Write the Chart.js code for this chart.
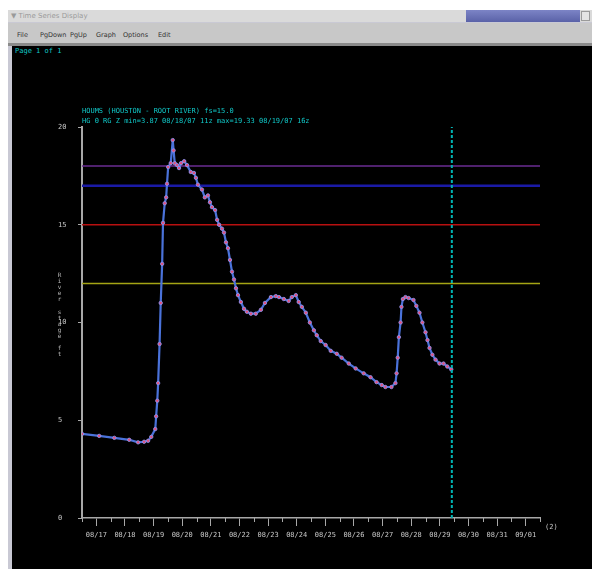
<!DOCTYPE html>
<html>
<head>
<meta charset="utf-8">
<title>Time Series Display</title>
<script src="https://cdn.jsdelivr.net/npm/chart.js@4/dist/chart.umd.min.js"></script>
<style>
  body { margin: 0; width: 592px; height: 569px; background: #fff; position: relative; overflow: hidden; font-family: "DejaVu Sans", sans-serif; }
  #frame { position: absolute; left: 8px; top: 10px; width: 584px; height: 559px; background: #c9c9d4; }
  #titlebar { position: absolute; left: 8px; top: 10px; width: 584px; height: 12px; background: #dadada; }
  #titlebar .active { position: absolute; left: 458px; top: 0; width: 114px; height: 12px; background: linear-gradient(#7c84c6, #5a62a8); }
  #titlebar .btn { position: absolute; left: 573px; top: 1px; width: 9px; height: 10px; background: #e4e4e4; border: 1px solid #9a9a9a; box-sizing: border-box; }
  #titlebar .txt { position: absolute; left: 3px; top: 1px; font-size: 7px; color: #9a9a9a; line-height: 10px; white-space: nowrap; }
  #menubar { position: absolute; left: 8px; top: 23px; width: 584px; height: 20px; background: #c8c8c8; border-bottom: 3px solid #8a8a8a; }
  #menubar span { position: absolute; top: 8px; font-size: 6.5px; color: #333; }
  #plot { position: absolute; left: 12px; top: 46px; width: 580px; height: 523px; background: #000; }
  #page { position: absolute; left: 15px; top: 47px; font: 7px "DejaVu Sans Mono", monospace; color: #10c8c8; }
  #ytitle { position: absolute; left: 56px; top: 271px; font: 6px "DejaVu Sans Mono", monospace; color: #b8b8b8; writing-mode: vertical-lr; text-orientation: upright; letter-spacing: -0.9px; }
  canvas { position: absolute; left: 12px; top: 46px; }
</style>
</head>
<body>
<div id="frame"></div>
<div id="titlebar"><span class="txt">&#9660; Time Series Display</span><div class="active"></div><div class="btn"></div></div>
<div id="menubar">
  <span style="left:9px">File</span><span style="left:32px">PgDown</span><span style="left:62px">PgUp</span>
  <span style="left:88px">Graph</span><span style="left:115px">Options</span><span style="left:150px">Edit</span>
</div>
<div id="plot"></div>
<div id="page">Page 1 of 1</div>
<canvas id="stageChart" width="580" height="523"></canvas>
<div id="ytitle">River stage ft</div>
<script>
// observation time, in days after 08/16 00z
const obsDay = [
  0.50, 1.10, 1.63, 2.15, 2.46, 2.67, 2.81, 2.92, 3.06, 3.09,
  3.13, 3.16, 3.21, 3.25, 3.30, 3.33, 3.39, 3.44, 3.47, 3.51,
  3.60, 3.67, 3.70, 3.74, 3.82, 3.89, 3.96, 4.07, 4.17, 4.30,
  4.41, 4.48, 4.55, 4.69, 4.79, 4.90, 4.97, 5.04, 5.15, 5.22,
  5.29, 5.39, 5.46, 5.53, 5.60, 5.67, 5.74, 5.81, 5.88, 5.95,
  6.05, 6.16, 6.26, 6.40, 6.57, 6.75, 6.89, 7.10, 7.27, 7.38,
  7.55, 7.72, 7.83, 7.97, 8.07, 8.18, 8.32, 8.46, 8.60, 8.70,
  8.84, 9.01, 9.19, 9.40, 9.57, 9.82, 10.06, 10.34, 10.58, 10.79,
  10.97, 11.10, 11.31, 11.45, 11.49, 11.53, 11.57, 11.63, 11.66, 11.71,
  11.80, 11.91, 12.08, 12.18, 12.29, 12.39, 12.50, 12.57, 12.64, 12.74,
  12.85, 12.99, 13.13, 13.26, 13.40
];
// river stage, ft
const stageFt = [
  4.30, 4.20, 4.10, 4.00, 3.87, 3.90, 3.95, 4.15, 4.55, 5.20,
  6.00, 6.90, 8.90, 11.00, 13.00, 15.10, 16.10, 16.40, 17.10, 17.95,
  18.15, 19.33, 18.80, 18.15, 18.05, 17.90, 18.15, 18.25, 18.05, 17.70,
  17.65, 17.40, 17.05, 16.80, 16.40, 16.50, 16.15, 15.90, 15.75, 15.25,
  15.00, 14.80, 14.60, 14.10, 13.80, 13.20, 12.60, 12.20, 11.75, 11.40,
  11.05, 10.70, 10.55, 10.45, 10.45, 10.65, 11.00, 11.30, 11.35, 11.30,
  11.20, 11.10, 11.30, 11.40, 11.05, 10.80, 10.50, 10.00, 9.60, 9.35,
  9.05, 8.85, 8.55, 8.40, 8.20, 7.90, 7.65, 7.40, 7.20, 6.95,
  6.80, 6.70, 6.70, 6.90, 7.40, 8.20, 9.25, 10.00, 10.80, 11.20,
  11.30, 11.25, 11.15, 10.85, 10.50, 10.00, 9.50, 9.10, 8.70, 8.35,
  8.10, 7.90, 7.90, 7.75, 7.60
];
// tick labels sit at days 1..16 (08/17 .. 09/01)
const tickLabels = ['08/17', '08/18', '08/19', '08/20', '08/21', '08/22', '08/23', '08/24',
  '08/25', '08/26', '08/27', '08/28', '08/29', '08/30', '08/31', '09/01'];
const yTicks = [0, 5, 10, 15, 20];
const levelValues = [18, 17, 15, 12];
const levelColors = ['#6a2c92', '#1a1aa6', '#b81010', '#a4a414'];
const levelWidths = [1.5, 2.5, 1.5, 1.5];
const nowDay = 13.42;
const dayMin = 0.5, dayMax = 16.5;
const titleText = 'HOUMS (HOUSTON - ROOT RIVER) fs=15.0';
const subtitleText = 'HG 0 RG Z min=3.87 08/18/07 11z max=19.33 08/19/07 16z';
const xUnitNote = '(2)';

const axisGrey = '#a8a8a8';
const labelGrey = '#c8c8c8';
const cyan = '#10c8c8';
const monoFont = { family: '"DejaVu Sans Mono", monospace', size: 7 };

const series = obsDay.map((d, i) => ({ x: d, y: stageFt[i] }));

const datasets = [
  {
    data: [{ x: nowDay, y: 0 }, { x: nowDay, y: 20.1 }],
    borderColor: '#00b4b4', borderWidth: 2, borderDash: [3, 2], pointRadius: 0
  },
  {
    data: series,
    borderColor: '#4a72da', borderWidth: 2.2,
    pointRadius: 1.7, pointBackgroundColor: '#e4507c',
    pointBorderColor: '#8c92ec', pointBorderWidth: 0.9
  }
];
levelValues.forEach((v, i) => {
  datasets.push({
    data: [{ x: dayMin, y: v }, { x: dayMax, y: v }],
    borderColor: levelColors[i], borderWidth: levelWidths[i], pointRadius: 0
  });
});

// half-day ticks under the x axis and the unit note at its end
const axisExtras = {
  id: 'axisExtras',
  afterDraw(chart) {
    const { ctx } = chart;
    const x = chart.scales.x;
    ctx.save();
    ctx.strokeStyle = axisGrey;
    ctx.lineWidth = 1;
    for (let d = dayMin; d <= dayMax; d += 1) {
      const px = Math.round(x.getPixelForValue(d)) + 0.5;
      ctx.beginPath();
      ctx.moveTo(px, x.top);
      ctx.lineTo(px, x.top + 4);
      ctx.stroke();
    }
    ctx.fillStyle = labelGrey;
    ctx.font = '7px "DejaVu Sans Mono", monospace';
    ctx.textAlign = 'left';
    ctx.textBaseline = 'middle';
    ctx.fillText(xUnitNote, x.right + 5, x.top + 9);
    ctx.restore();
  }
};

new Chart(document.getElementById('stageChart'), {
  type: 'line',
  data: { datasets },
  plugins: [axisExtras],
  options: {
    responsive: false,
    animation: false,
    devicePixelRatio: 1,
    layout: { padding: { left: 46, right: 52, top: 61, bottom: 0 } },
    plugins: {
      legend: { display: false },
      tooltip: { enabled: false },
      title: {
        display: true, text: titleText, align: 'start', fullSize: false,
        color: cyan, font: { ...monoFont, weight: 'normal' },
        padding: { top: 0, bottom: 0 }
      },
      subtitle: {
        display: true, text: subtitleText, align: 'start', fullSize: false,
        color: cyan, font: monoFont,
        padding: { top: 1.4, bottom: 1.8 }
      }
    },
    scales: {
      x: {
        type: 'linear', min: dayMin, max: dayMax,
        afterFit: s => { s.height = 51; },
        afterBuildTicks: s => { s.ticks = tickLabels.map((_, i) => ({ value: i + 1 })); },
        border: { color: axisGrey, width: 1.5 },
        grid: { drawOnChartArea: false, tickLength: 8, tickColor: axisGrey },
        ticks: {
          autoSkip: false, maxRotation: 0, padding: 5,
          color: labelGrey, font: monoFont,
          callback: (v, i) => tickLabels[i]
        }
      },
      y: {
        min: 0, max: 20,
        afterFit: s => { s.width = 24; },
        afterBuildTicks: s => { s.ticks = yTicks.map(v => ({ value: v })); },
        border: { color: axisGrey, width: 2 },
        grid: { drawOnChartArea: false, tickLength: 4, tickColor: axisGrey },
        ticks: { crossAlign: 'far', color: labelGrey, font: monoFont }
      }
    }
  }
});
</script>
</body>
</html>
